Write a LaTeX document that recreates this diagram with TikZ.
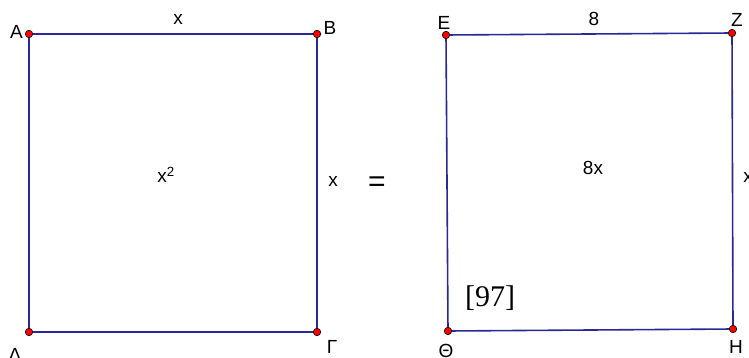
\documentclass[tikz,border=0pt]{standalone}
\usepackage{fontspec}
\setmainfont{Liberation Sans}
\newfontfamily\refserif{Liberation Serif}
\usepackage{tikz}
\usepackage{xcolor}
\definecolor{sideblue}{RGB}{40,40,150}

\begin{document}
\begin{tikzpicture}[
    x=1pt, y=-1pt,
    every node/.style={inner sep=0pt, font=\fontsize{19}{21}\selectfont},
    side/.style={draw=sideblue, line width=1.6pt},
    vertex/.style={circle, fill=red, draw=black, line width=0.6pt, minimum size=7.5pt}
]
\useasboundingbox (0,0) rectangle (749,358);

% Left square
\coordinate (A) at (29,34);
\coordinate (B) at (317,34);
\coordinate (G) at (317,332);
\coordinate (D) at (29,332);
\draw[side] (A) -- (B) -- (G) -- (D) -- cycle;

% Right rectangle
\coordinate (E) at (446,35);
\coordinate (Z) at (732,33);
\coordinate (H) at (733,329);
\coordinate (Th) at (448,331);
\draw[side] (E) -- (Z) -- (H) -- (Th) -- cycle;

% Points
\node[vertex] at (A) {};
\node[vertex] at (B) {};
\node[vertex] at (G) {};
\node[vertex] at (D) {};
\node[vertex] at (E) {};
\node[vertex] at (Z) {};
\node[vertex] at (H) {};
\node[vertex] at (Th) {};

% Vertex labels
\node (labA) at (16.5,32) {Α};
\node (labB) at (330,28) {Β};
\node (labG) at (332,347) {Γ};
\node (labD) at (15,355) {Δ};
\node (labE) at (444,23) {Ε};
\node (labZ) at (737,20) {Ζ};
\node (labH) at (736,347) {Η};
\node (labTh) at (446,351) {Θ};

% Side and area labels
\node (topx) at (178,19) {x};
\node (rightx) at (333,181) {x};
\node (area1) at (166,175) {x\textsuperscript{2}};
\node (eq) at (377,184) {\fontsize{30}{32}\selectfont =};
\node (top8) at (594,19) {8};
\node (area2) at (593,168) {8x};
\node (rightx2) at (748,177) {x};
\node (ref) at (490,298) {\refserif\fontsize{30}{32}\selectfont [97]};

\end{tikzpicture}
\end{document}
